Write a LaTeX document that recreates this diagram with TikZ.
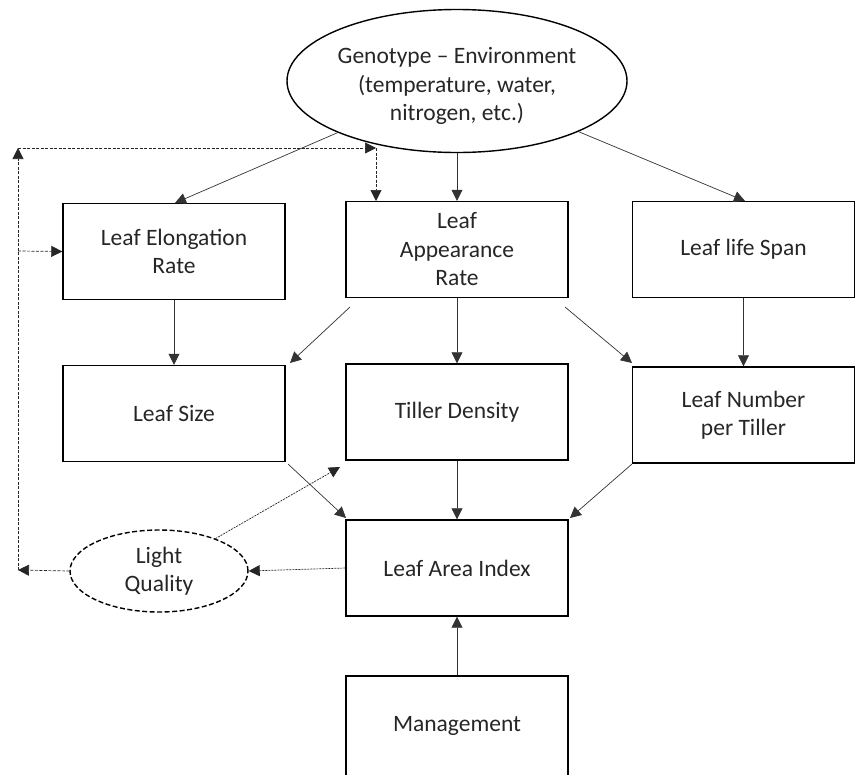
\documentclass[tikz,border=0pt]{standalone}
\usepackage{fontspec}
\setmainfont{Carlito}
\usetikzlibrary{arrows.meta,shapes.geometric}
\begin{document}
\begin{tikzpicture}[x=1pt,y=-1pt,
  every node/.style={font=\fontsize{23.5}{28.5}\selectfont, align=center, text=black!85},
  box/.style={draw=black, line width=1.4pt, minimum width=222pt, minimum height=96pt, inner sep=0pt},
  arr/.style={draw=black!80, line width=0.7pt, -{Triangle[length=11pt,width=11pt]}},
  dot/.style={draw=black!85, line width=0.7pt, dash pattern=on 2pt off 1pt, -{Triangle[length=11pt,width=11pt]}},
  dsh/.style={draw=black!85, line width=0.7pt, dash pattern=on 3pt off 1.5pt, -{Triangle[length=11pt,width=11pt]}}]
\useasboundingbox (0,0) rectangle (856,774);
\node[ellipse, draw=black, line width=1.4pt, minimum width=340pt, minimum height=143pt, inner sep=0pt] (ge) at (457,81) {};
\node (getext) at (457,86) {Genotype -- Environment\\(temperature, water,\\nitrogen, etc.)};
\node[box] (ler) at (174,251.5) {Leaf Elongation\\Rate};
\node[box] (lar) at (457,249.5) {Leaf\\Appearance\\Rate};
\node[box] (lls) at (743.5,249.5) {Leaf life Span};
\node[box] (ls) at (174,413.5) {Leaf Size};
\node[box] (td) at (457,412) {Tiller Density};
\node[box] (ln) at (743.5,415) {Leaf Number\\per Tiller};
\node[box] (lai) at (457,568) {Leaf Area Index};
\node[box, minimum height=108pt] (mg) at (457,730) {};
\node (mgtext) at (457,726) {Management};
\node[ellipse, draw=black, line width=1.4pt, dash pattern=on 5pt off 2.5pt, minimum width=178pt, minimum height=82pt, inner sep=0pt] (lq) at (159,571) {Light\\Quality};
\coordinate (c1) at (18,570);
\coordinate (c2) at (18,148);
\coordinate (c3) at (376,148);
\coordinate (c4) at (18,251);
% solid arrows
\draw[arr] (ge) -- (175,203);
\draw[arr] (ge.south) -- (lar.north);
\draw[arr] (ge) -- (745,201);
\draw[arr] (ler.south) -- (ls.north);
\draw[arr] (350,307) -- (290,363);
\draw[arr] (lar.south) -- (td.north);
\draw[arr] (565,307) -- (632,363);
\draw[arr] (lls.south) -- (ln.north);
\draw[arr] (288,464) -- (346,518);
\draw[arr] (td.south) -- (lai.north);
\draw[arr] (632,464) -- (570,518);
\draw[arr] (mg.north) -- (lai.south);
% dotted / dashed feedback
\draw[dot] (lai.west) -- (lq.east);
\draw[dot] (lq) -- (340,467);
\draw[dsh] (lq.west) -- (c1);
\draw[dsh] (c1) -- (c2);
\draw[dsh] (c2) -- (c3);
\draw[dsh] (c3) -- (376,201);
\draw[dsh] (c4) -- (ler.west);
\end{tikzpicture}
\end{document}
